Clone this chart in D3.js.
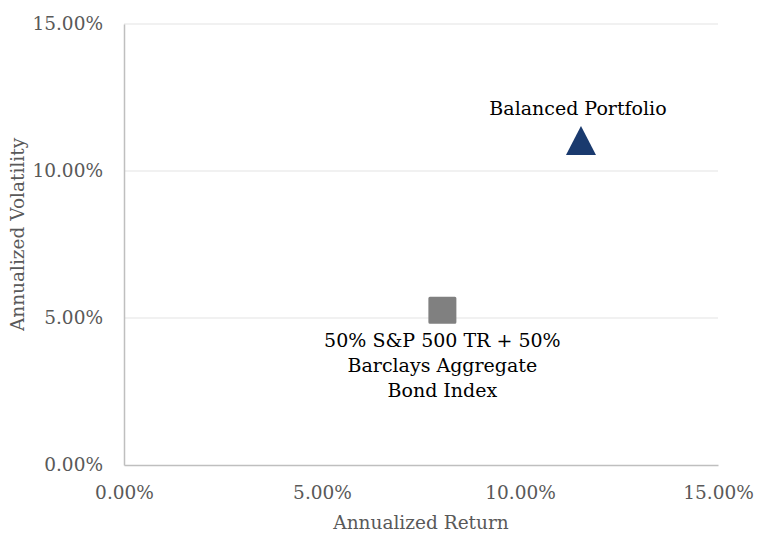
<!DOCTYPE html>
<meta charset="utf-8">
<script src="https://d3js.org/d3.v7.min.js"></script>
<style>
  body { margin: 0; background: #fff; }
  text { font-family: Rockwell, "DejaVu Serif", serif; }
</style>
<body>
<div id="chart"></div>
<script>

// data
var names = ["Balanced Portfolio", "50% S&P 500 TR + 50% Barclays Aggregate Bond Index"];
var labelLines = [["Balanced Portfolio"], ["50% S&P 500 TR + 50%", "Barclays Aggregate", "Bond Index"]];
var returns = [0.1154, 0.0804];
var volatility = [0.1102, 0.0526];
var shapes = ["triangle", "square"];
var colors = ["#1a3a6e", "#808080"];
var xTicks = [0, 0.05, 0.10, 0.15];
var yTicks = [0, 0.05, 0.10, 0.15];

var W = 757, H = 533;
var margin = {top: 24, right: 39, bottom: 68, left: 124},
    width = W - margin.left - margin.right,
    height = H - margin.top - margin.bottom;

var svg = d3.select("#chart").append("svg")
    .attr("width", W)
    .attr("height", H)
  .append("g")
    .attr("transform", "translate(" + margin.left + "," + margin.top + ")");

var x = d3.scaleLinear().domain([0, 0.15]).range([0, width]);
var y = d3.scaleLinear().domain([0, 0.15]).range([height, 0]);
var fmt = d3.format(".2%");

// gridlines
svg.append("g")
  .selectAll("line")
  .data(yTicks.filter(function(d) { return d > 0; }))
  .enter().append("line")
    .attr("x1", 0).attr("x2", width)
    .attr("y1", function(d) { return y(d); })
    .attr("y2", function(d) { return y(d); })
    .style("stroke", "#ececec")
    .style("stroke-width", 1.3);

// axes
var xAxis = svg.append("g")
    .attr("transform", "translate(0," + height + ")")
    .call(d3.axisBottom(x).tickValues(xTicks).tickFormat(fmt).tickSize(0).tickPadding(21));
var yAxis = svg.append("g")
    .call(d3.axisLeft(y).tickValues(yTicks).tickFormat(fmt).tickSize(0).tickPadding(21));

[xAxis, yAxis].forEach(function(a) {
  a.select(".domain").style("stroke", "#bfbfbf").style("stroke-width", 1.5);
  a.selectAll("text")
    .style("font-family", 'Rockwell, "DejaVu Serif", serif')
    .style("font-size", "18.5px")
    .style("fill", "#595959");
});

// axis titles
svg.append("text")
    .attr("x", width / 2)
    .attr("y", height + 64)
    .style("text-anchor", "middle")
    .style("font-size", "18.5px")
    .style("fill", "#595959")
    .text("Annualized Return");

svg.append("text")
    .attr("transform", "rotate(-90)")
    .attr("x", -height / 2 + 10)
    .attr("y", -100)
    .style("text-anchor", "middle")
    .style("font-size", "18.5px")
    .style("fill", "#595959")
    .text("Annualized Volatility");

// points
var pts = names.map(function(n, i) {
  return {name: n, lines: labelLines[i], r: returns[i], v: volatility[i], shape: shapes[i], color: colors[i]};
});

svg.append("g")
  .selectAll("path")
  .data(pts)
  .enter().append("path")
    .attr("transform", function(d) { return "translate(" + x(d.r) + "," + y(d.v) + ")"; })
    .attr("d", function(d) {
      if (d.shape === "triangle") return "M0,-15L15,14L-15,14Z";
      return "M-12.5,-13.5h25a1.5,1.5 0 0 1 1.5,1.5v24a1.5,1.5 0 0 1 -1.5,1.5h-25a1.5,1.5 0 0 1 -1.5,-1.5v-24a1.5,1.5 0 0 1 1.5,-1.5Z";
    })
    .style("fill", function(d) { return d.color; });

// data labels
pts.forEach(function(d) {
  var above = d.shape === "triangle";
  var t = svg.append("text")
      .attr("x", x(d.r) - (above ? 3 : 0))
      .attr("y", above ? y(d.v) - 26 : y(d.v) + 37)
      .style("text-anchor", "middle")
      .style("font-size", "19px")
      .style("fill", "#000");
  d.lines.forEach(function(l, j) {
    t.append("tspan")
      .attr("x", x(d.r) - (above ? 3 : 0))
      .attr("dy", j === 0 ? 0 : 25)
      .text(l);
  });
});

</script>
</body>
